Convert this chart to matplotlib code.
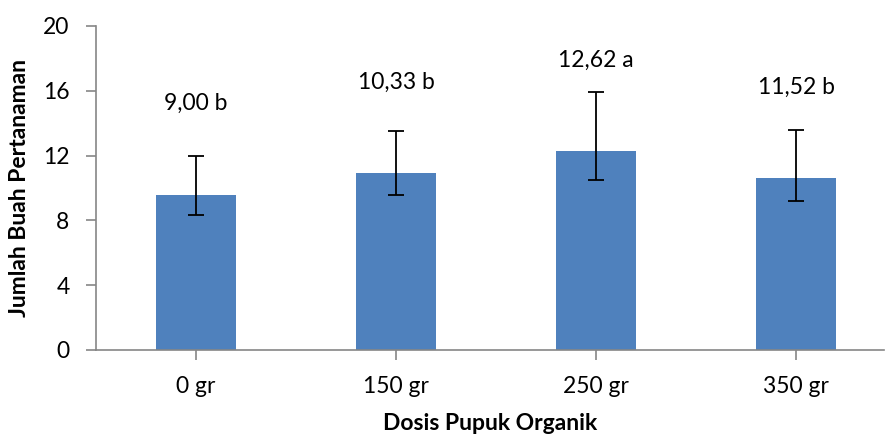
import matplotlib.pyplot as plt
import numpy as np

plt.rcParams["font.family"] = ["Lato", "DejaVu Sans"]

categories = ["0 gr", "150 gr", "250 gr", "350 gr"]
means = [9.55, 10.9, 12.28, 10.62]
err_low = [1.2, 1.31, 1.81, 1.44]
err_high = [2.4, 2.62, 3.67, 2.96]
labels = ["9,00 b", "10,33 b", "12,62 a", "11,52 b"]
label_y = [15.25, 16.5, 17.9, 16.2]
yticks = [0, 4, 8, 12, 16, 20]

grey = "#868686"

fig = plt.figure(figsize=(8.85, 4.37), dpi=100)
ax = fig.add_axes([96 / 885, (437 - 350) / 437, (884 - 96) / 885, 324 / 437])

x = np.arange(len(categories))
ax.bar(x, means, width=0.4, color="#4F81BD", zorder=2)
ax.errorbar(x, means, yerr=[err_low, err_high], fmt="none", ecolor="black",
            elinewidth=1.3, capsize=6, capthick=1.3, zorder=3)

for xi, yi, txt in zip(x, label_y, labels):
    ax.text(xi, yi, txt, ha="center", va="center", fontsize=16.5)

ax.set_xlim(-0.5, 3.44)
ax.set_ylim(0, 20)
ax.set_yticks(yticks)
ax.set_xticks(x)
ax.set_xticklabels(categories)
ax.tick_params(axis="both", labelsize=16.5, color=grey, length=7, width=1.2)
ax.tick_params(axis="x", pad=12)
ax.tick_params(axis="y", pad=12)

for side in ["top", "right"]:
    ax.spines[side].set_visible(False)
for side in ["left", "bottom"]:
    ax.spines[side].set_color(grey)
    ax.spines[side].set_linewidth(1.2)

ax.set_ylabel("Jumlah Buah Pertanaman", fontsize=16.5, fontweight="bold", labelpad=9)
ax.set_xlabel("Dosis Pupuk Organik", fontsize=16.5, fontweight="bold", labelpad=11)

fig.savefig("out.png", dpi=100)
